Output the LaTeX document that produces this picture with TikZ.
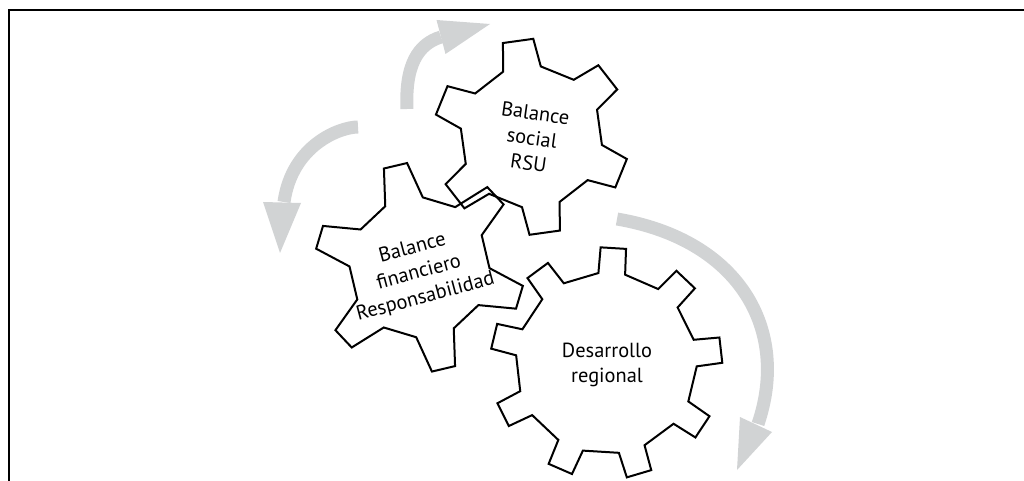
\documentclass[tikz,border=0pt]{standalone}
\usepackage{fontspec}
\setmainfont{PT Sans}
\definecolor{arrowgray}{RGB}{209,211,212}
% #1 cx, #2 cy, #3 teeth, #4 tip radius, #5 root radius, #6 tip half angle, #7 base half angle, #8 phase
\newcommand{\gearoutline}[8]{%
  \begin{scope}[shift={(#1,#2)}]
    \draw[gearline] ({-(#8-#7)}:#5)
      \foreach \k in {1,...,#3}{
        -- ({-(#8+(\k-1)*360/#3-#6)}:#4)
        -- ({-(#8+(\k-1)*360/#3+#6)}:#4)
        -- ({-(#8+(\k-1)*360/#3+#7)}:#5)
        -- ({-(#8+\k*360/#3-#7)}:#5)
      } -- cycle;
  \end{scope}}
\begin{document}
\begin{tikzpicture}[x=0.5pt,y=-0.5pt,
  gearline/.style={draw=black,line width=1pt},
  frameline/.style={draw=black,line width=0.9pt},
  shaft/.style={draw=arrowgray,line width=6.5pt},
  headfill/.style={fill=arrowgray,draw=none},
  gtext/.style={align=center,inner sep=0pt,font=\fontsize{10.2}{12.6}\selectfont}]
\useasboundingbox (0,0) rectangle (1024,481);

% frame
\coordinate (fbl) at (9,481);
\coordinate (ftl) at (9,10);
\coordinate (ftr) at (1024,10);
\draw[frameline] (fbl) -- (ftl) -- (ftr);

% arrows
\coordinate (a1s) at (407,109);
\coordinate (a1e) at (441,37);
\coordinate (a1l) at (436.5,20);
\coordinate (a1r) at (445.5,54);
\coordinate (a1t) at (490,24);
\draw[shaft] (a1s) .. controls (405,65) and (418,44) .. (a1e);
\fill[headfill] (a1l) -- (a1t) -- (a1r) -- cycle;

\coordinate (a2s) at (358,127);
\coordinate (a2e) at (284,202);
\coordinate (a2l) at (263,202);
\coordinate (a2r) at (301,203);
\coordinate (a2t) at (280,253);
\draw[shaft] (a2s) .. controls (340,127) and (292,145) .. (a2e);
\fill[headfill] (a2l) -- (a2t) -- (a2r) -- cycle;

\coordinate (a3s) at (617,219);
\coordinate (a3e) at (758,424);
\coordinate (a3l) at (740,417);
\coordinate (a3r) at (772,432);
\coordinate (a3t) at (737,470);
\draw[shaft] (a3s) .. controls (740,240) and (790,330) .. (a3e);
\fill[headfill] (a3l) -- (a3t) -- (a3r) -- cycle;

% gears
\gearoutline{531.4}{136.8}{6}{98}{71}{9}{15.5}{97.9}
\gearoutline{419.5}{267.3}{6}{105}{70}{6.5}{16}{103.3}
\gearoutline{606.3}{363.2}{9}{116}{90.5}{6.3}{8.5}{6.5}

% labels
\node[gtext,rotate=-8] (gA) at (532,138) {Balance\\social\\RSU};
\node[gtext,rotate=15] (gB) at (419,273) {Balance\\financiero\\Responsabilidad};
\node[gtext] (gC) at (607,365) {Desarrollo\\regional};
\end{tikzpicture}
\end{document}
